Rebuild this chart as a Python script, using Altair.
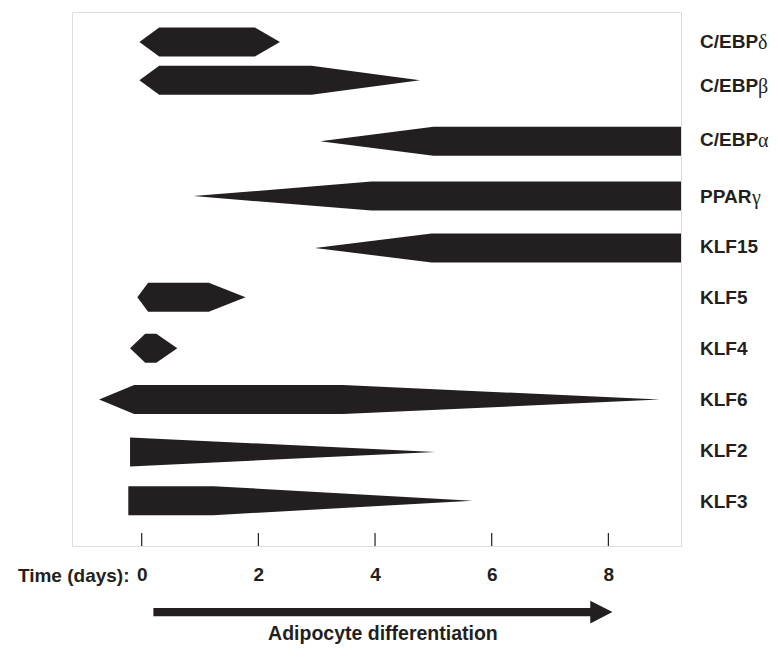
import altair as alt
import pandas as pd

# ---------------- data ----------------
genes = ["C/EBPδ", "C/EBPβ", "C/EBPα", "PPARγ", "KLF15",
         "KLF5", "KLF4", "KLF6", "KLF2", "KLF3"]
# label split into latin part (bold) and greek suffix (regular)
label_base = ["C/EBP", "C/EBP", "C/EBP", "PPAR", "KLF15",
              "KLF5", "KLF4", "KLF6", "KLF2", "KLF3"]
label_greek = ["δ", "β", "α", "γ", "", "", "", "", "", ""]
greek_offset = [58, 58, 58, 52, 0, 0, 0, 0, 0, 0]   # px after label start
# vertical row centre of each shape (row units, 0 = top of frame)
row_pos = [0.59, 1.34, 2.54, 3.62, 4.64, 5.61, 6.61, 7.62, 8.65, 9.61]
# vertical position of each gene label
label_pos = [0.59, 1.45, 2.52, 3.63, 4.63, 5.63, 6.63, 7.63, 8.63, 9.63]

# outline of every expression shape: days and relative thickness (1 = full bar)
shape_days = [
    [-0.04, 0.30, 1.94, 2.37],      # C/EBPδ
    [-0.04, 0.30, 2.91, 4.77],      # C/EBPβ
    [3.06, 5.00, 9.30],             # C/EBPα
    [0.885, 3.94, 9.30],            # PPARγ
    [2.97, 4.97, 9.30],             # KLF15
    [-0.075, 0.11, 1.15, 1.78],     # KLF5
    [-0.20, 0.06, 0.25, 0.61],      # KLF4
    [-0.73, -0.13, 3.45, 8.88],     # KLF6
    [-0.20, 5.03],                  # KLF2
    [-0.23, 1.23, 5.67],            # KLF3
]
shape_frac = [
    [0, 1, 1, 0],
    [0, 1, 1, 0],
    [0, 1, 1],
    [0, 1, 1],
    [0, 1, 1],
    [0, 1, 1, 0],
    [0, 1, 1, 0],
    [0, 1, 1, 0],
    [1, 0],
    [1, 1, 0],
]
half_thickness = 0.285          # half bar height in row units

tick_days = [0, 2, 4, 6, 8]
x_domain = [-1.195, 9.245]
y_domain = [0, 10.5]

# big arrow below the axis
arrow_days = [0.20, 7.689, 7.69, 8.07]
arrow_half = [0.079, 0.079, 0.222, 0.0]
arrow_row = 11.80
caption = "Adipocyte differentiation"
caption_row = 12.35

INK = "#231f20"
FONT = "Liberation Sans"

# ---------------- tables ----------------
rows = []
for g, pos, ds, fs in zip(genes, row_pos, shape_days, shape_frac):
    for d, f in zip(ds, fs):
        rows.append({"gene": g, "day": d,
                     "top": pos - f * half_thickness,
                     "bottom": pos + f * half_thickness})
shapes = pd.DataFrame(rows)

labels = pd.DataFrame({"gene": genes, "base": label_base, "greek": label_greek,
                       "goff": [628 + o for o in greek_offset], "pos": label_pos})
greek_labels = labels[labels["greek"] != ""]
ticks = pd.DataFrame({"day": tick_days,
                      "y1": [y_domain[1]] * len(tick_days),
                      "y2": [y_domain[1] - 0.256] * len(tick_days)})
arrow = pd.DataFrame({"day": arrow_days,
                      "top": [arrow_row - h for h in arrow_half],
                      "bottom": [arrow_row + h for h in arrow_half]})
cap = pd.DataFrame({"day": [(arrow_days[0] + arrow_days[-1]) / 2],
                    "row": [caption_row], "text": [caption]})

xs = alt.Scale(domain=x_domain, nice=False, zero=False)
ys = alt.Scale(domain=y_domain, nice=False, zero=False, reverse=True)

x_axis = alt.Axis(values=tick_days, format="d", ticks=False, tickSize=0,
                  domain=False, grid=False,
                  labelFont=FONT, labelFontSize=19, labelFontWeight="bold",
                  labelColor=INK, labelPadding=19, labelFlush=False,
                  title="Time (days):", titleFont=FONT, titleFontSize=19,
                  titleFontWeight="bold", titleColor=INK,
                  titleX=57, titleY=29, titleAlign="right",
                  titleBaseline="middle", titleAngle=0)

band = alt.Chart(shapes).mark_area(color=INK, orient="vertical", clip=True).encode(
    x=alt.X("day:Q", scale=xs, axis=x_axis),
    y=alt.Y("top:Q", scale=ys, axis=None),
    y2="bottom:Q",
    detail="gene:N",
)

tick_marks = alt.Chart(ticks).mark_rule(color=INK, strokeWidth=1.2).encode(
    x=alt.X("day:Q", scale=xs),
    y=alt.Y("y1:Q", scale=ys),
    y2="y2:Q",
)

gene_text = alt.Chart(labels).mark_text(
    align="left", baseline="middle", font=FONT, fontSize=19,
    fontWeight="bold", color=INK,
).encode(
    x=alt.value(628),
    y=alt.Y("pos:Q", scale=ys),
    text="base:N",
)

greek_text = alt.Chart(greek_labels).mark_text(
    align="left", baseline="middle", font="Liberation Serif", fontSize=20,
    fontWeight="normal", color=INK, dy=1,
).encode(
    x=alt.X("goff:Q", scale=None),
    y=alt.Y("pos:Q", scale=ys),
    text="greek:N",
)

arrow_mark = alt.Chart(arrow).mark_area(color=INK, orient="vertical").encode(
    x=alt.X("day:Q", scale=xs),
    y=alt.Y("top:Q", scale=ys),
    y2="bottom:Q",
)

cap_text = alt.Chart(cap).mark_text(
    align="center", baseline="alphabetic", font=FONT, fontSize=19.5,
    fontWeight="bold", color=INK,
).encode(
    x=alt.X("day:Q", scale=xs),
    y=alt.Y("row:Q", scale=ys),
    text="text:N",
)

chart = alt.layer(band, tick_marks, gene_text, greek_text, arrow_mark, cap_text).properties(
    width=609, height=534,
    autosize=alt.AutoSizeParams(type="none"),
    padding={"left": 64, "top": 4, "right": 88, "bottom": 100},
).configure_view(stroke=INK, strokeWidth=1.5).configure(background="white")

chart.save("out.html", embed_options={"renderer": "svg", "actions": False})
